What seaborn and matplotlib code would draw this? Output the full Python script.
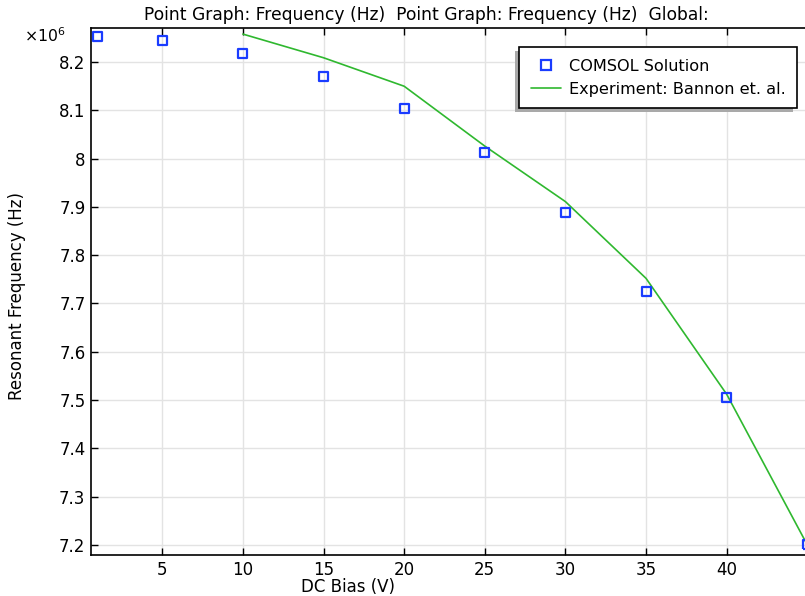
import numpy as np
import pandas as pd
import matplotlib
matplotlib.use("Agg")
import matplotlib.pyplot as plt
import seaborn as sns
from matplotlib.lines import Line2D
from matplotlib.patches import Rectangle
from matplotlib.ticker import FuncFormatter

# ---- data (Hz) ----
comsol_bias = [1, 5, 10, 15, 20, 25, 30, 35, 40, 45]
comsol_freq = [8.253e6, 8.244e6, 8.217e6, 8.171e6, 8.104e6, 8.012e6, 7.889e6, 7.725e6, 7.506e6, 7.200e6]
exp_bias = [10, 15, 20, 25, 30, 35, 40, 45]
exp_freq = [8.258e6, 8.209e6, 8.150e6, 8.026e6, 7.911e6, 7.752e6, 7.512e6, 7.200e6]
x_ticks = [5, 10, 15, 20, 25, 30, 35, 40]
y_ticks = [7.2e6, 7.3e6, 7.4e6, 7.5e6, 7.6e6, 7.7e6, 7.8e6, 7.9e6, 8.0e6, 8.1e6, 8.2e6]

sns.set_theme(style="white")
plt.rcParams['font.family'] = ['DejaVu Sans']
plt.rcParams['text.color'] = 'black'
plt.rcParams['axes.labelcolor'] = 'black'

W, H = 805, 596
FS = 12
fig = plt.figure(figsize=(W / 100, H / 100), dpi=100)
ax = fig.add_axes([91 / W, (H - 555) / H, (807.3 - 91) / W, (555 - 28.3) / H])

df_c = pd.DataFrame({"bias": comsol_bias, "freq": comsol_freq})
df_e = pd.DataFrame({"bias": exp_bias, "freq": exp_freq})

blue = "#1a3cff"
green = "#2fb82f"
sns.lineplot(data=df_e, x="bias", y="freq", ax=ax, color=green, linewidth=1.2, zorder=3)
sns.scatterplot(data=df_c, x="bias", y="freq", ax=ax, marker="s", s=42,
                facecolor="none", edgecolor=blue, linewidth=1.6, zorder=4)

ax.set_xlim(0.58, 45)
ax.set_ylim(7.179e6, 8.270e6)
ax.set_xticks(x_ticks)
ax.set_yticks(y_ticks)
ax.yaxis.set_major_formatter(FuncFormatter(lambda v, p: "%g" % round(v / 1e6, 3)))
ax.grid(True, color="#e3e3e3", linewidth=1.0)
ax.set_axisbelow(True)
for s in ["left", "bottom", "top", "right"]:
    ax.spines[s].set_color("black")
    ax.spines[s].set_linewidth(1.2)
ax.tick_params(axis="both", which="both", direction="in", length=5, width=1.0,
               labelsize=FS, colors="black", top=True, right=False, bottom=True, left=True, pad=4)
ax.set_xlabel("")
ax.set_ylabel("")

fig.text(348 / W, 1 - 587 / H, "DC Bias (V)", ha="center", va="center", fontsize=FS)
fig.text(17 / W, 1 - 295.5 / H, "Resonant Frequency (Hz)", ha="center", va="center",
         rotation=90, fontsize=FS)
fig.text(426 / W, 1 - 14.5 / H,
         "Point Graph: Frequency (Hz)  Point Graph: Frequency (Hz)  Global:",
         ha="center", va="center", fontsize=12.3)
fig.text(24 / W, 1 - 42 / H, r"$\times10^6$", ha="left", va="baseline", fontsize=11.3)

handles = [
    Line2D([], [], linestyle="none", marker="s", markersize=7, markerfacecolor="none",
           markeredgecolor=blue, markeredgewidth=1.6),
    Line2D([], [], color=green, linewidth=1.2),
]
leg = ax.legend(handles, ["COMSOL Solution", "Experiment: Bannon et. al."],
                loc="upper right", bbox_to_anchor=(797 / W, 1 - 47 / H),
                bbox_transform=fig.transFigure, borderaxespad=0, fontsize=11.6,
                frameon=True, fancybox=False, framealpha=1, edgecolor="black",
                handlelength=1.9, handletextpad=0.45, borderpad=0.72, labelspacing=0.5)
leg.get_frame().set_linewidth(1.2)
leg.set_zorder(10)

fig.canvas.draw()
bb = leg.get_frame().get_window_extent()
shadow = Rectangle((bb.x0 - 4, bb.y0 - 4), bb.width, bb.height, transform=None,
                   facecolor="#a9a9a9", edgecolor="none", zorder=9, clip_on=False)
ax.add_artist(shadow)

fig.savefig("out.png", dpi=100)
